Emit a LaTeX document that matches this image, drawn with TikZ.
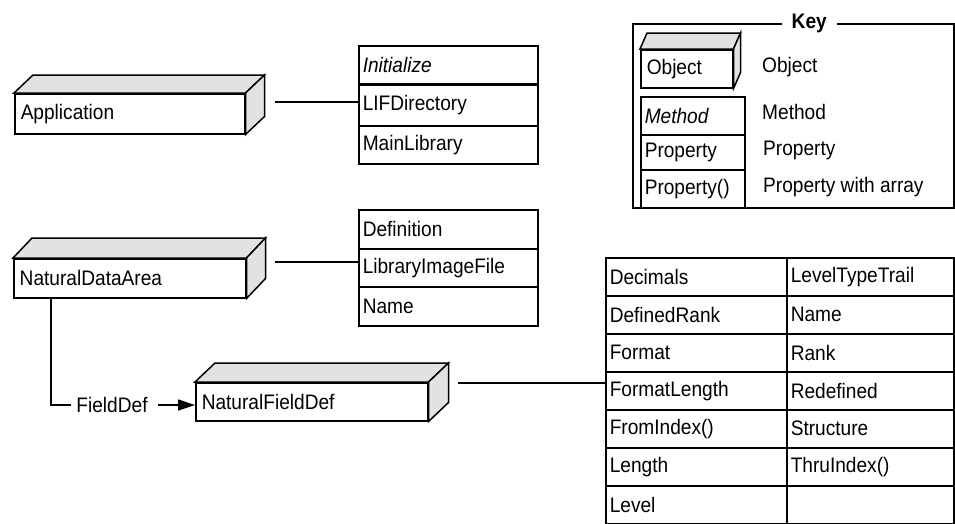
\documentclass[tikz,border=0pt]{standalone}
\usepackage{fontspec}
\setmainfont[FakeStretch=0.91]{Liberation Sans}
\usetikzlibrary{arrows.meta}
\definecolor{facegray}{HTML}{E2E2E2}
\newcommand\mkobj[8]{%
  \pgfmathsetmacro\objtw{#4-12}%
  \node[objfront, minimum width=#4pt, minimum height=#5pt, text width=\objtw pt] (#1) at (#2,#3) {#8};
  \draw[ln, fill=facegray] (#1.north west) -- ++(#6,#7) -- ([shift={(#6,#7)}]#1.north east) -- (#1.north east) -- cycle;
  \draw[ln, fill=facegray] (#1.north east) -- ++(#6,#7) -- ([shift={(#6,#7)}]#1.south east) -- (#1.south east) -- cycle;
}
\begin{document}
\begin{tikzpicture}[x=1pt, y=-1pt,
  every node/.style={font=\fontsize{21}{24}\selectfont},
  ln/.style={line width=1.5pt},
  ital/.style={font=\fontsize{21}{24}\selectfont\itshape},
  objfront/.style={draw, ln, fill=white, anchor=north west, inner xsep=6pt, inner ysep=0pt, align=left},
  cell/.style={draw, ln, anchor=north west, inner xsep=4pt, inner ysep=0pt, align=left},
  cellA/.style={cell, text width=171pt},
  cellK/.style={cell, text width=96pt},
  cellL/.style={cell, text width=173pt, minimum height=38pt},
  cellR/.style={cell, text width=159pt, minimum height=38pt},
  keytxt/.style={anchor=west, inner sep=0pt}
]
\useasboundingbox (0,0) rectangle (955,523);

% ---- Application ----
\mkobj{app}{14}{93}{230}{40}{19}{-18}{Application}
\node[cellA, ital, minimum height=39pt] (init) at (358,45) {Initialize};
\node[cellA, minimum height=41pt] (lif) at (358,84) {LIFDirectory};
\node[cellA, minimum height=38pt] (mainlib) at (358,125) {MainLibrary};
\draw[line width=2.5pt] (lif.north west) -- (lif.north east);
\coordinate (appout) at (275,102);
\draw[ln] (appout) -- (appout -| lif.west);

% ---- NaturalDataArea ----
\mkobj{nda}{13}{258}{232}{39}{19}{-20}{NaturalDataArea}
\node[cellA, minimum height=39pt] (defn) at (358,209) {Definition};
\node[cellA, minimum height=38pt] (lib) at (358,248) {LibraryImageFile};
\node[cellA, minimum height=39pt] (ndaname) at (358,286) {Name};
\coordinate (ndaout) at (275,262);
\draw[ln] (ndaout) -- (ndaout -| lib.west);

% ---- FieldDef ----
\node[inner xsep=5pt, inner ysep=2pt] (fdlbl) at (112,405) {FieldDef};
\draw[ln] ([xshift=38pt]nda.south west) |- (fdlbl.west);
\mkobj{nfd}{195}{382}{232}{38}{20}{-19}{NaturalFieldDef}
\draw[ln, -{Triangle[length=17pt,width=11pt]}] ([xshift=5pt]fdlbl.east) -- (nfd.west |- fdlbl.east);

% ---- property table ----
\node[cellL] (dec) at (605,257) {Decimals};
\node[cellL] (defrank) at (605,295) {DefinedRank};
\node[cellL] (fmt) at (605,333) {Format};
\node[cellL] (fmtlen) at (605,371) {FormatLength};
\node[cellL] (fromidx) at (605,409) {FromIndex()};
\node[cellL] (len) at (605,447) {Length};
\node[cellL] (lvl) at (605,485) {Level};
\node[cellR] (lvltt) at (786,257) {LevelTypeTrail};
\node[cellR] (nm) at (786,295) {Name};
\node[cellR] (rank) at (786,333) {Rank};
\node[cellR] (redef) at (786,371) {Redefined};
\node[cellR] (struct) at (786,409) {Structure};
\node[cellR] (thru) at (786,447) {ThruIndex()};
\node[cellR] (empty) at (786,485) {};
\coordinate (nfdout) at (458,383);
\draw[ln] (nfdout) -- (nfdout -| fmtlen.west);

% ---- Key ----
\node[draw, ln, anchor=north west, minimum width=321pt, minimum height=184pt, inner sep=0pt] (keyframe) at (632,23) {};
\node[fill=white, inner xsep=10pt, inner ysep=1pt, font=\fontsize{21}{24}\selectfont\bfseries] (keylbl) at ([xshift=16pt]keyframe.north) {Key};
\mkobj{kobj}{640}{49}{92}{38}{7}{-16}{Object}
\node[cellK, ital, minimum height=38pt] (kmeth) at (640,96) {Method};
\node[cellK, minimum height=35pt] (kprop) at (640,134) {Property};
\node[cellK, minimum height=38pt] (kparr) at (640,169) {Property()};
\node[keytxt] (kt1) at (762,67) {Object};
\node[keytxt] (kt2) at (762,112) {Method};
\node[keytxt] (kt3) at (763,150) {Property};
\node[keytxt] (kt4) at (763,187) {Property with array};
\end{tikzpicture}
\end{document}
